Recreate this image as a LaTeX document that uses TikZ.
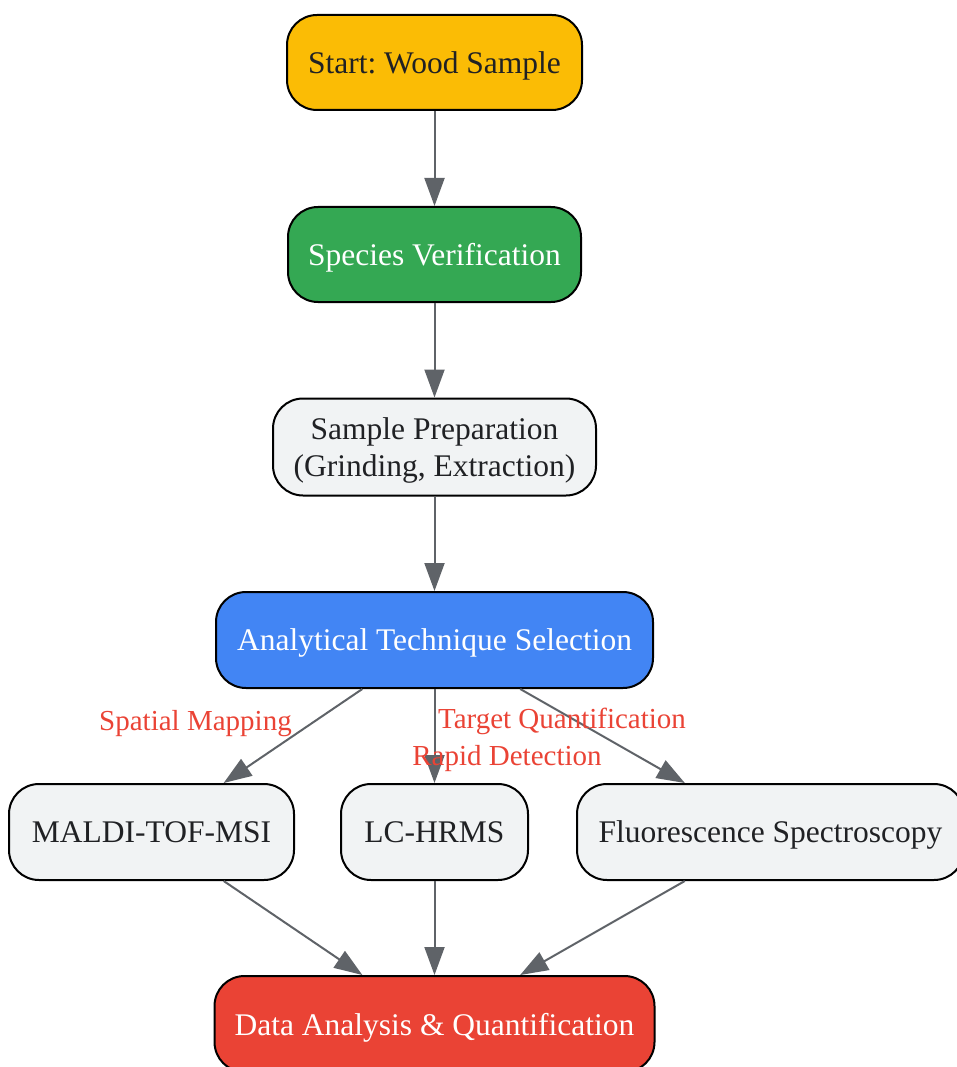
\documentclass[tikz,border=0pt]{standalone}
\usepackage{fontspec}
\setmainfont{Liberation Serif}
\usepackage{tikz}
\usetikzlibrary{arrows.meta}
\frenchspacing

\definecolor{startyellow}{HTML}{FBBC05}
\definecolor{verifygreen}{HTML}{34A853}
\definecolor{selectblue}{HTML}{4285F4}
\definecolor{resultred}{HTML}{EA4335}
\definecolor{lightgrey}{HTML}{F1F3F4}
\definecolor{edgegrey}{HTML}{5F6368}
\definecolor{textgrey}{HTML}{202124}

\tikzset{
  stepbox/.style={draw=black, line width=2pt, rounded corners=30pt,
    fill=lightgrey, text=textgrey, align=center, inner sep=0pt,
    text depth=0pt, font=\fontsize{31.5}{37.5}\selectfont},
  flow/.style={draw=edgegrey, line width=2pt,
    -{Triangle[length=28pt,width=20pt]}},
  flowlabel/.style={text=resultred, text depth=0pt,
    font=\fontsize{29}{34}\selectfont}
}

\begin{document}
\begin{tikzpicture}[x=1pt,y=-1pt]
    \useasboundingbox (0,0) rectangle (956,1067);

    \coordinate (P1) at (434.5, 62.5);
    \coordinate (P2) at (434.5, 254.5);
    \coordinate (P3) at (434.5, 447);
    \coordinate (P4) at (434.5, 640);
    \coordinate (P5) at (151.5, 832);
    \coordinate (P6) at (434.5, 832);
    \coordinate (P7) at (770.5, 832);
    \coordinate (P8) at (434.5, 1024);

    \node[stepbox, fill=startyellow, minimum width=295pt, minimum height=95pt] (start) at (P1) {Start: Wood Sample};
    \node[stepbox, fill=verifygreen, text=white, minimum width=293pt, minimum height=95pt] (verify) at (P2) {Species Verification};
    \node[stepbox, minimum width=323pt, minimum height=97pt] (prep) at (P3) {Sample Preparation\\(Grinding, Extraction)};
    \node[stepbox, fill=selectblue, text=white, minimum width=437pt, minimum height=96pt] (select) at (P4) {Analytical Technique Selection};
    \node[stepbox, minimum width=285pt, minimum height=96pt] (maldi) at (P5) {MALDI-TOF-MSI};
    \node[stepbox, minimum width=187pt, minimum height=96pt] (lchrms) at (P6) {LC-HRMS};
    \node[stepbox, minimum width=387pt, minimum height=96pt] (fluor) at (P7) {Fluorescence Spectroscopy};
    \node[stepbox, fill=resultred, text=white, minimum width=440pt, minimum height=96pt] (result) at (P8) {Data Analysis \& Quantification};

    \draw[flow] (start) -- (verify);
    \draw[flow] (verify) -- (prep);
    \draw[flow] (prep) -- (select);
    \draw[flow] (select) -- (maldi);
    \draw[flow] (select) -- (lchrms);
    \draw[flow] (select) -- (fluor);
    \draw[flow] (maldi) -- (result);
    \draw[flow] (lchrms) -- (result);
    \draw[flow] (fluor) -- (result);

%labels
    \node[flowlabel] (spatial) at (195.5, 720) {Spatial Mapping};
    \node[flowlabel] (target) at (562, 718) {Target Quantification};
    \node[flowlabel] (rapid) at (507, 755) {Rapid Detection};

\end{tikzpicture}
\end{document}
